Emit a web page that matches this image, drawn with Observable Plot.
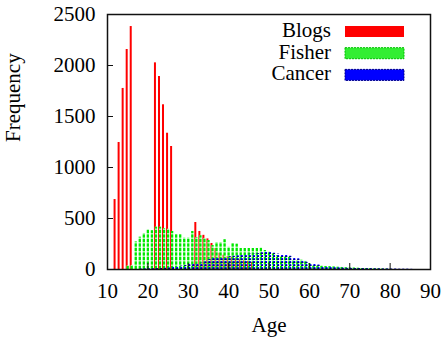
<!DOCTYPE html>
<html><head><meta charset="utf-8">
<script src="https://cdn.jsdelivr.net/npm/d3@7"></script>
<script src="https://cdn.jsdelivr.net/npm/@observablehq/plot@0.6"></script>
<style>body{margin:0;background:#fff;} svg text{font-family:"Liberation Serif","Times New Roman",serif;}</style>
</head><body><div id="chart"></div>
<script>
// ---- data ----
const series = ["Blogs", "Fisher", "Cancer"];
const seriesColors = ["#ff0000", "#00e600", "#0000ff"];

const blogsAge  = [12,13,14,15,16, 22,23,24,25,26, 32,33,34,35,36,37,38,39,40,41,42,43,44,45,46];
const blogsFreq = [686,1245,1775,2157,2382, 2026,1892,1615,1336,1206, 461,373,335,300,255,205,160,140,125,120,105,95,85,80,70];

const fisherAge  = [15,16,17,18,19,20,21,22,23,24,25,26,27,28,29,30,31,32,33,34,35,36,37,38,39,40,41,42,43,44,45,46,47,48,49,50,51,52,53,54,55,56,57,58,59,60,61,62,63,64,65,66,67,68,69,70,71,72,73,74,75,76,77,78,79,80];
const fisherFreq = [35,40,270,317,353,389,380,415,415,402,395,372,343,343,310,310,372,313,330,305,285,235,265,265,291,219,252,248,205,205,205,205,205,210,186,170,153,137,127,127,121,88,88,90,80,56,40,39,35,30,28,25,22,20,18,15,14,12,10,9,8,6,5,4,3,2];

const cancerAge  = [18,19,20,21,22,23,24,25,26,27,28,29,30,31,32,33,34,35,36,37,38,39,40,41,42,43,44,45,46,47,48,49,50,51,52,53,54,55,56,57,58,59,60,61,62,63,64,65,66,67,68,69,70,71,72,73,74,75,76,77,78,79,80,81,82,83,84,85];
const cancerFreq = [3,4,5,6,8,10,12,15,20,25,32,40,50,55,58,62,75,95,110,115,115,118,125,130,135,140,145,150,150,155,165,170,168,160,150,145,140,130,118,105,80,72,55,50,45,25,22,20,18,16,14,12,11,10,9,8,7,6,5,5,4,4,3,3,2,2,2,1];

const xTicks = [10,20,30,40,50,60,70,80,90];
const yTicks = [0,500,1000,1500,2000,2500];

const rows = (ages, freqs) => ages.map((a, i) => ({age: a, freq: freqs[i]}));
const blogs = rows(blogsAge, blogsFreq);
const fisher = rows(fisherAge, fisherFreq);
const cancer = rows(cancerAge, cancerFreq);

const font = "Liberation Serif, Times New Roman, serif";
const fs = 21;

const svg = Plot.plot({
  width: 444, height: 340,
  marginLeft: 107, marginRight: 14, marginTop: 14, marginBottom: 71,
  style: {fontFamily: font, fontSize: fs + "px", background: "#fff", color: "#000"},
  x: {domain: [10, 90]},
  y: {domain: [0, 2500]},
  marks: [
    Plot.ruleX(blogs, {x: "age", y1: 0, y2: "freq", stroke: seriesColors[0], strokeWidth: 2, dx: -1}),
    Plot.ruleX(fisher, {x: "age", y1: 0, y2: "freq", stroke: "#9cff9c", strokeWidth: 2.2}),
    Plot.ruleX(fisher, {x: "age", y1: 0, y2: "freq", stroke: seriesColors[1], strokeWidth: 2.2, strokeDasharray: "3,1.5"}),
    Plot.ruleX(cancer, {x: "age", y1: 0, y2: "freq", stroke: seriesColors[2], strokeWidth: 2, dx: 1, strokeDasharray: "2,1"}),
    Plot.ruleX(cancer, {x: "age", y1: 0, y2: "freq", stroke: "#000080", strokeWidth: 2, dx: 1, strokeDasharray: "1,2"}),
    Plot.frame({stroke: "#111", strokeWidth: 1.5}),
    Plot.axisY(yTicks, {tickSize: -6, text: null, label: null, stroke: "#111"}),
    Plot.axisY(yTicks, {tickSize: 0, tickPadding: 12, label: null, fill: "#000", tickFormat: d => String(d), fontFamily: font, fontSize: fs}),
    Plot.axisX(xTicks, {tickSize: -6, text: null, label: null, stroke: "#111"}),
    Plot.axisX(xTicks, {tickSize: 0, tickPadding: 14, label: null, fill: "#000", tickFormat: d => String(d), fontFamily: font, fontSize: fs}),
    Plot.text(["Age"], {frameAnchor: "bottom", dy: 56, text: d => d, lineAnchor: "middle", fill: "#000", fontFamily: font, fontSize: fs}),
    Plot.text(["Frequency"], {frameAnchor: "left", dx: -94, rotate: -90, text: d => d, lineAnchor: "middle", fill: "#000", fontFamily: font, fontSize: fs})
  ]
});

// legend, inside the frame at the top right
const W = 444, mr = 14, mt = 14;
const right = W - mr;
const g = d3.select(svg).append("g");
series.forEach((name, i) => {
  const cy = mt + 17.5 + i * 21.7;
  g.append("text").attr("x", right - 99).attr("y", cy + 5.5)
    .attr("text-anchor", "end").attr("fill", "#000")
    .style("font-family", font).style("font-size", fs + "px").text(name);
  const r = g.append("rect").attr("x", right - 85).attr("y", cy - 5.5)
    .attr("width", 59).attr("height", 11).attr("fill", seriesColors[i]);
  if (i === 1) r.attr("fill", "#33ee33").attr("stroke", "#00c000").attr("stroke-dasharray", "2,1");
  if (i === 2) r.attr("stroke", "#000088").attr("stroke-dasharray", "2,1");
});

document.getElementById("chart").appendChild(svg);
</script>
</body></html>
